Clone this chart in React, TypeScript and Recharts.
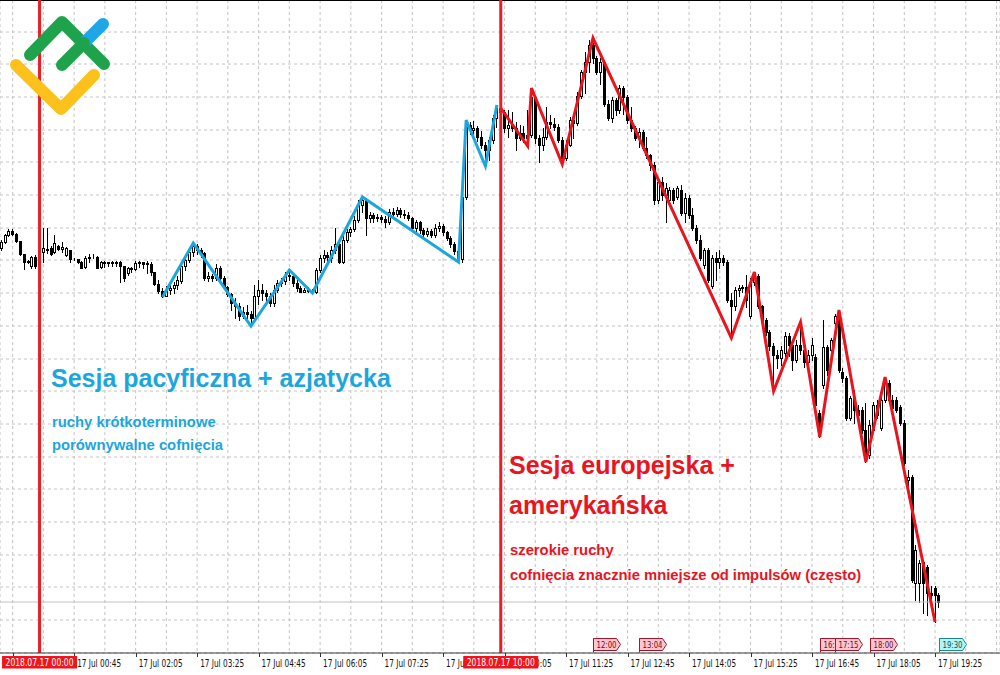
import { Bar, CartesianGrid, ComposedChart, Line, ReferenceDot, ReferenceLine, XAxis, YAxis } from 'recharts'

// EURUSD M5, 16 Jul 23:10 .. 17 Jul 19:30, prices in points
const openPts = [
  752, 758, 765, 769, 766, 759, 746, 738, 734, 743,
  736, 748, 751, 752, 748, 754, 751, 745, 750, 741,
  741, 738, 733, 742, 744, 743, 733, 738, 737, 738,
  737, 738, 734, 727, 732, 731, 737, 738, 736, 736,
  728, 716, 709, 704, 710, 712, 715, 719, 734, 740,
  748, 754, 750, 747, 722, 724, 722, 732, 722, 713,
  706, 697, 694, 684, 688, 686, 682, 704, 710, 707,
  704, 697, 710, 717, 719, 725, 724, 717, 712, 708,
  710, 709, 708, 730, 742, 745, 742, 750, 756, 738,
  760, 768, 771, 780, 795, 800, 782, 785, 782, 783,
  781, 778, 788, 786, 790, 786, 785, 782, 772, 778,
  770, 766, 769, 765, 772, 774, 768, 762, 756, 749,
  741, 803, 875, 870, 872, 863, 855, 850, 860, 882,
  892, 888, 872, 875, 872, 862, 867, 862, 865, 903,
  862, 855, 863, 878, 876, 873, 860, 842, 855, 880,
  877, 904, 928, 938, 955, 942, 928, 938, 896, 882,
  900, 890, 912, 903, 880, 872, 862, 868, 852, 845,
  835, 800, 818, 805, 800, 810, 803, 810, 787, 802,
  785, 772, 760, 735, 750, 714, 742, 738, 742, 738,
  700, 694, 710, 712, 713, 684, 718, 724, 694, 680,
  668, 654, 645, 642, 647, 664, 655, 640, 655, 650,
  638, 645, 643, 587, 615, 653, 650, 677, 684, 628,
  622, 582, 602, 590, 590, 570, 545, 570, 595, 572,
  600, 617, 600, 600, 593, 577, 520, 523, 417, 417,
  438, 433, 407, 412, 405,
]
const highPts = [
  760, 766, 771, 771, 767, 759, 746, 740, 744, 745,
  755, 772, 772, 754, 765, 755, 758, 753, 750, 742,
  741, 739, 744, 746, 746, 744, 739, 739, 738, 739,
  739, 739, 734, 733, 733, 739, 739, 738, 739, 738,
  728, 720, 712, 714, 715, 718, 724, 738, 744, 750,
  757, 756, 752, 748, 728, 726, 736, 734, 724, 714,
  707, 702, 697, 693, 695, 689, 715, 720, 716, 710,
  707, 715, 720, 722, 728, 730, 726, 720, 714, 712,
  713, 711, 732, 745, 750, 748, 754, 772, 758, 764,
  771, 773, 784, 800, 803, 802, 788, 787, 786, 785,
  784, 791, 792, 793, 792, 790, 788, 783, 780, 779,
  772, 772, 771, 776, 778, 776, 769, 764, 758, 751,
  805, 880, 878, 879, 874, 869, 858, 863, 885, 895,
  892, 890, 890, 888, 878, 875, 874, 890, 912, 905,
  865, 872, 893, 885, 882, 876, 863, 860, 883, 885,
  908, 930, 948, 960, 962, 944, 942, 940, 900, 903,
  902, 915, 914, 905, 893, 874, 872, 870, 863, 846,
  838, 822, 823, 817, 813, 812, 814, 815, 807, 805,
  792, 775, 765, 752, 752, 745, 748, 750, 745, 740,
  707, 713, 715, 715, 725, 722, 728, 726, 695, 682,
  670, 657, 650, 654, 668, 667, 656, 660, 678, 660,
  650, 662, 646, 590, 680, 655, 662, 686, 690, 632,
  624, 604, 610, 595, 593, 597, 580, 598, 600, 602,
  623, 620, 605, 603, 595, 580, 530, 525, 455, 440,
  440, 435, 414, 414, 407,
]
const lowPts = [
  750, 757, 764, 765, 758, 745, 731, 737, 732, 732,
  734, 738, 747, 745, 747, 750, 748, 744, 738, 740,
  737, 732, 732, 738, 742, 732, 732, 733, 734, 734,
  734, 718, 719, 725, 728, 730, 733, 732, 727, 725,
  715, 707, 703, 704, 706, 707, 711, 717, 730, 738,
  744, 746, 743, 720, 719, 719, 720, 718, 711, 704,
  690, 682, 680, 682, 680, 674, 680, 696, 700, 698,
  694, 694, 708, 714, 716, 720, 714, 709, 708, 708,
  708, 707, 707, 728, 738, 738, 738, 747, 737, 737,
  758, 764, 769, 778, 788, 765, 778, 778, 779, 778,
  773, 776, 784, 784, 783, 782, 780, 770, 769, 767,
  763, 764, 763, 763, 769, 765, 760, 753, 746, 738,
  738, 801, 866, 862, 859, 852, 834, 840, 857, 873,
  882, 868, 863, 869, 850, 860, 858, 854, 863, 857,
  838, 850, 861, 872, 870, 858, 836, 840, 854, 862,
  875, 902, 907, 928, 937, 926, 916, 894, 880, 878,
  885, 887, 886, 877, 869, 860, 853, 850, 842, 830,
  796, 797, 800, 778, 798, 797, 801, 785, 778, 782,
  770, 757, 740, 732, 718, 712, 720, 732, 735, 698,
  662, 690, 704, 708, 693, 682, 715, 692, 677, 665,
  650, 609, 632, 635, 644, 644, 630, 638, 646, 633,
  635, 640, 590, 563, 612, 625, 648, 675, 628, 618,
  580, 580, 577, 582, 567, 538, 542, 568, 582, 570,
  598, 598, 590, 588, 575, 535, 503, 418, 400, 398,
  387, 385, 400, 378, 393,
]
const closePts = [
  758, 765, 769, 766, 759, 746, 738, 739, 743, 734,
  750, 752, 750, 746, 757, 751, 753, 752, 741, 741,
  738, 732, 742, 743, 744, 732, 738, 737, 738, 737,
  738, 734, 722, 732, 731, 737, 738, 736, 737, 728,
  716, 709, 704, 710, 712, 715, 720, 734, 740, 748,
  754, 750, 747, 722, 724, 722, 732, 722, 713, 706,
  697, 694, 684, 688, 686, 682, 704, 710, 707, 704,
  697, 710, 717, 719, 725, 724, 717, 712, 708, 710,
  709, 708, 730, 742, 745, 743, 750, 756, 738, 760,
  768, 771, 780, 795, 800, 782, 785, 782, 783, 781,
  778, 788, 786, 790, 786, 785, 782, 772, 778, 770,
  766, 769, 765, 772, 774, 768, 762, 756, 749, 741,
  803, 875, 870, 872, 863, 855, 850, 860, 882, 892,
  888, 872, 875, 872, 862, 867, 862, 865, 903, 862,
  855, 863, 878, 876, 873, 860, 842, 855, 880, 877,
  904, 928, 938, 955, 942, 928, 938, 896, 882, 900,
  890, 912, 903, 880, 872, 862, 868, 852, 845, 835,
  800, 818, 805, 812, 810, 800, 812, 787, 802, 785,
  772, 760, 742, 750, 720, 742, 738, 742, 738, 700,
  694, 710, 712, 713, 700, 718, 724, 694, 680, 668,
  654, 645, 642, 650, 664, 655, 640, 655, 650, 638,
  645, 655, 595, 575, 653, 630, 660, 684, 630, 622,
  582, 602, 590, 585, 570, 545, 575, 595, 585, 600,
  617, 600, 592, 590, 577, 537, 523, 420, 450, 437,
  417, 407, 405, 405, 398,
]

// ZigZag pivots (bar index / price)
const asiaPivotBars = [42, 50, 65, 75, 81, 94, 119, 121, 126, 129]
const asiaPivotPts = [703, 757, 674, 730, 707, 803, 738, 880, 834, 895]
const euPivotBars = [130, 137, 138, 146, 154, 190, 196, 201, 208, 213, 218, 225, 230, 243]
const euPivotPts = [892, 854, 912, 836, 962, 662, 728, 609, 678, 563, 690, 538, 623, 378]

// time axis: labelled ticks every 80 min, grid every 40 min
const majorBars = [3, 19, 35, 51, 67, 83, 99, 115, 131, 147, 163, 179, 195, 211, 227, 243]
const majorLabels = [
  '', '17 Jul 00:45', '17 Jul 02:05', '17 Jul 03:25', '17 Jul 04:45', '17 Jul 06:05',
  '17 Jul 07:25', '17 Jul 08:45', '17 Jul 10:05', '17 Jul 11:25', '17 Jul 12:45', '17 Jul 14:05',
  '17 Jul 15:25', '17 Jul 16:45', '17 Jul 18:05', '17 Jul 19:25',
]
const minorBars = [11, 27, 43, 59, 75, 91, 107, 123, 139, 155, 171, 187, 203, 219, 235, 251, 259]
const sessionBars = [10, 130]
const sessionLabels = ['2018.07.17 00:00', '2018.07.17 10:00']
const gridPts = [380, 413, 445, 478, 511, 543, 576, 609, 641, 674, 707, 740, 772, 805, 838, 870, 903, 936, 968]

// event flags above the time axis
const eventBars = [154, 166, 213, 217, 226, 244]
const eventLabels = ['12:00', '13:04', '16:55', '17:15', '18:00', '19:30']

const ASIA = '#1ba6de'
const EU = '#e8141e'
const SESSION_LINE = '#ee1c24'

const data = openPts.map((o, i) => ({
  i,
  o,
  h: highPts[i],
  l: lowPts[i],
  c: closePts[i],
  range: [lowPts[i], highPts[i]],
  asia: asiaPivotBars.includes(i) ? asiaPivotPts[asiaPivotBars.indexOf(i)] : null,
  eu: euPivotBars.includes(i) ? euPivotPts[euPivotBars.indexOf(i)] : null,
}))

// session labels last so they paint over the time labels they cover
const axisTicks = [...majorBars, ...minorBars].sort((a, b) => a - b).concat(sessionBars)

function Candle(props: any) {
  const { x, y, width, height, payload } = props
  if (x == null || y == null) return null
  const cx = Math.round(x + width / 2)
  const span = payload.h - payload.l
  const toY = (v: number) => (span === 0 ? y : y + ((payload.h - v) / span) * height)
  const yo = toY(payload.o)
  const yc = toY(payload.c)
  const top = Math.round(Math.min(yo, yc))
  const bot = Math.round(Math.max(yo, yc))
  const up = payload.c >= payload.o
  return (
    <g shapeRendering="crispEdges">
      <line x1={cx + 0.5} x2={cx + 0.5} y1={Math.round(y)} y2={Math.round(y + height) + 1} stroke="#000" />
      <rect x={cx - 0.5} y={top + 0.5} width={2} height={Math.max(bot - top, 0)} fill={up ? '#fff' : '#000'} stroke="#000" />
    </g>
  )
}

function TimeTick(props: any) {
  const { x, y, payload } = props
  const v = payload.value
  const s = sessionBars.indexOf(v)
  if (s >= 0) {
    return (
      <g>
        <rect x={x - 37.5} y={y + 3} width={75} height={12.5} fill="#f0141c" />
        <text x={x} y={y + 13} textAnchor="middle" fill="#fff" fontSize={10} fontFamily="DejaVu Sans"
          textLength={68} lengthAdjust="spacingAndGlyphs">{sessionLabels[s]}</text>
      </g>
    )
  }
  const m = majorBars.indexOf(v)
  if (m < 0) return <g />
  return (
    <g>
      <line x1={Math.round(x) + 0.5} x2={Math.round(x) + 0.5} y1={y} y2={y + 4} stroke="#333" />
      {majorLabels[m] && (
        <text x={x + 3} y={y + 13.5} fill="#111" fontSize={10} fontFamily="DejaVu Sans"
          textLength={44} lengthAdjust="spacingAndGlyphs">{majorLabels[m]}</text>
      )}
    </g>
  )
}

function EventFlag(props: any) {
  const { cx, cy, label, cyan } = props
  if (cx == null) return <g />
  const left = Math.round(cx) + 0.5
  const top = Math.round(cy) - 6.5
  const fill = cyan ? '#b5f2f2' : '#ffc6cf'
  const stroke = cyan ? '#1a8c8c' : '#a3162e'
  const ink = cyan ? '#0b5454' : '#6e0a1c'
  return (
    <g>
      <path d={`M${left},${top} H${left + 23} L${left + 27},${top + 6} L${left + 23},${top + 12} H${left} Z`}
        fill={fill} stroke={stroke} />
      <line x1={left} x2={left} y1={top} y2={top + 14} stroke={stroke} />
      <text x={left + 3} y={top + 9.5} fill={ink} fontSize={9} fontFamily="DejaVu Sans"
        textLength={20} lengthAdjust="spacingAndGlyphs">{label}</text>
    </g>
  )
}

function Logo() {
  return (
    <g fill="none" strokeLinecap="round" strokeLinejoin="round" strokeWidth={12}>
      <path d="M16,65 L61,109 L94,75" stroke="#fcc11b" />
      <path d="M30,55 L62,22 L104,64" stroke="#1ea34c" />
      <path d="M84,43 L103,24" stroke="#1fa6e6" />
      <path d="M62,65 L84,43" stroke="#1ea34c" />
    </g>
  )
}

export default function App() {
  return (
    <div style={{ position: 'absolute', left: 0, top: 0, width: 1000, height: 675, background: '#fff' }}>
      <ComposedChart width={1000} height={675} data={data} margin={{ top: 0, right: 0, left: 0, bottom: 0 }}>
        <CartesianGrid stroke="#c4c4c4" strokeDasharray="3 3" />
        <XAxis
          dataKey="i"
          type="number"
          domain={[-0.29, 259.9]}
          allowDataOverflow
          ticks={axisTicks}
          interval={0}
          tick={<TimeTick />}
          tickLine={false}
          tickSize={0}
          tickMargin={0}
          height={22}
          axisLine={{ stroke: '#3a3a3a' }}
        />
        <YAxis hide width={0} type="number" domain={[347, 1000]} allowDataOverflow ticks={gridPts} interval={0} />
        <ReferenceLine y={1000} stroke="#000" strokeWidth={2} />
        <ReferenceLine y={closePts[closePts.length - 1]} stroke="#c2c2c2" />
        <Bar dataKey="range" barSize={3} shape={<Candle />} isAnimationActive={false} />
        <Line dataKey="asia" type="linear" stroke={ASIA} strokeWidth={3} dot={false} connectNulls isAnimationActive={false} />
        <Line dataKey="eu" type="linear" stroke={EU} strokeWidth={3} dot={false} connectNulls isAnimationActive={false} />
        {sessionBars.map((b) => (
          <ReferenceLine key={b} x={b} stroke={SESSION_LINE} strokeWidth={3} />
        ))}
        {eventBars.map((b, k) => (
          <ReferenceDot key={b} x={b} y={355} r={0}
            shape={(p: any) => <EventFlag {...p} label={eventLabels[k]} cyan={k === eventBars.length - 1} />} />
        ))}
      </ComposedChart>
      <svg width={1000} height={675} style={{ position: 'absolute', left: 0, top: 0, pointerEvents: 'none' }}>
        <Logo />
        <g fontFamily="'Liberation Sans', Arial, sans-serif" fontWeight="bold">
          <text x={51} y={387} fill={ASIA} fontSize={25}>Sesja pacyficzna + azjatycka</text>
          <text x={52} y={427} fill={ASIA} fontSize={14.8}>ruchy krótkoterminowe</text>
          <text x={52} y={450} fill={ASIA} fontSize={14.8}>porównywalne cofnięcia</text>
          <text x={509} y={474} fill={EU} fontSize={25}>Sesja europejska +</text>
          <text x={509} y={514} fill={EU} fontSize={25}>amerykańska</text>
          <text x={510} y={555} fill={EU} fontSize={14.8}>szerokie ruchy</text>
          <text x={510} y={580} fill={EU} fontSize={14.8}>cofnięcia znacznie mniejsze od impulsów (często)</text>
        </g>
      </svg>
    </div>
  )
}
